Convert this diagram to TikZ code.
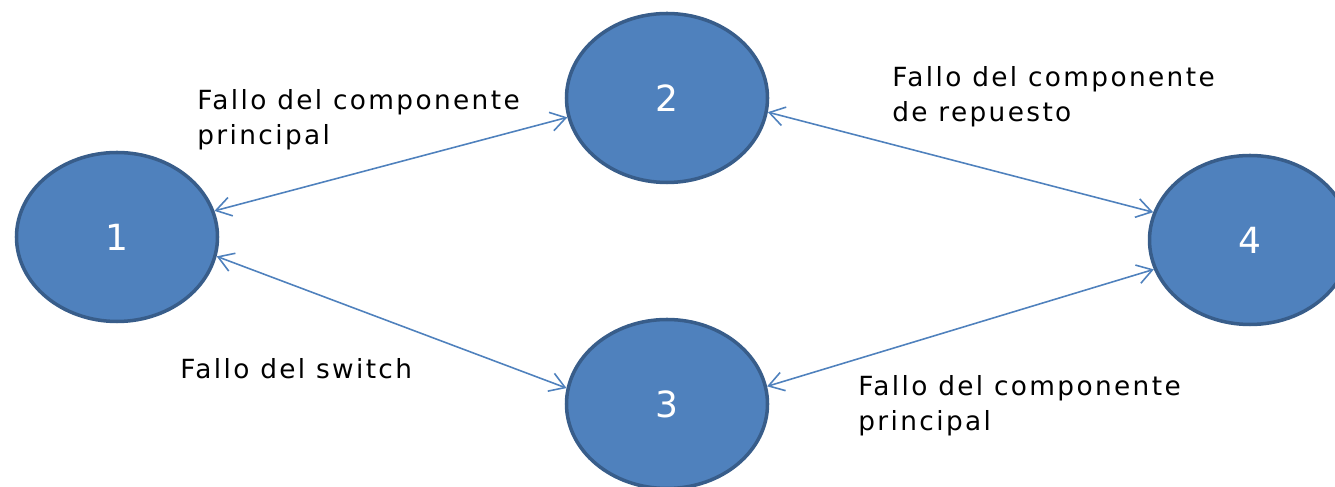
\documentclass[tikz,border=0pt]{standalone}
\usepackage{fontspec}
\setmainfont{DejaVu Sans}
\newfontfamily\etiqfont[LetterSpace=9]{DejaVu Sans}
\usetikzlibrary{shapes.geometric,arrows.meta}

\definecolor{azul}{HTML}{4F81BD}
\definecolor{borde}{HTML}{385D8A}

\tikzset{
    estado/.style={ellipse, fill=azul, draw=borde, line width=2pt,
        minimum width=4.02cm, minimum height=3.38cm, inner sep=0pt,
        text=white, font=\fontsize{20.5}{24}\selectfont},
    flecha/.style={azul, line width=0.9pt,
        {Straight Barb[length=0.3cm,width=0.38cm]}-{Straight Barb[length=0.3cm,width=0.38cm]}},
    etiqueta/.style={anchor=base west, inner sep=0pt, align=left,
        font=\etiqfont\fontsize{15}{20}\selectfont}
}

\begin{document}
\begin{tikzpicture}
    \useasboundingbox (0,0) rectangle (26.7,-9.74);

    \coordinate (A) at (2.34,-4.74);
    \coordinate (B) at (13.34,-1.96);
    \coordinate (C) at (13.34,-8.08);
    \coordinate (D) at (25.0,-4.80);

    \foreach \vertex/\name/\num in {A/n1/1, B/n2/2, C/n3/3, D/n4/4}
    {
        \node[estado] (\name) at (\vertex) {\num};
    }

    \draw[flecha] (n1.15) -- (n2.191);
    \draw[flecha] (n1.-11) -- (n3.171);
    \draw[flecha] (n2.-8) -- (n4.164);
    \draw[flecha] (n3.10) -- (n4.197);

    % base anchor sits on the last line of each label
    \node[etiqueta] (l12) at (3.94,-2.90) {Fallo del componente\\principal};
    \node[etiqueta] (l13) at (3.60,-7.58) {Fallo del switch};
    \node[etiqueta] (l24) at (17.84,-2.44) {Fallo del componente\\de repuesto};
    \node[etiqueta] (l34) at (17.16,-8.62) {Fallo del componente\\principal};
\end{tikzpicture}
\end{document}
